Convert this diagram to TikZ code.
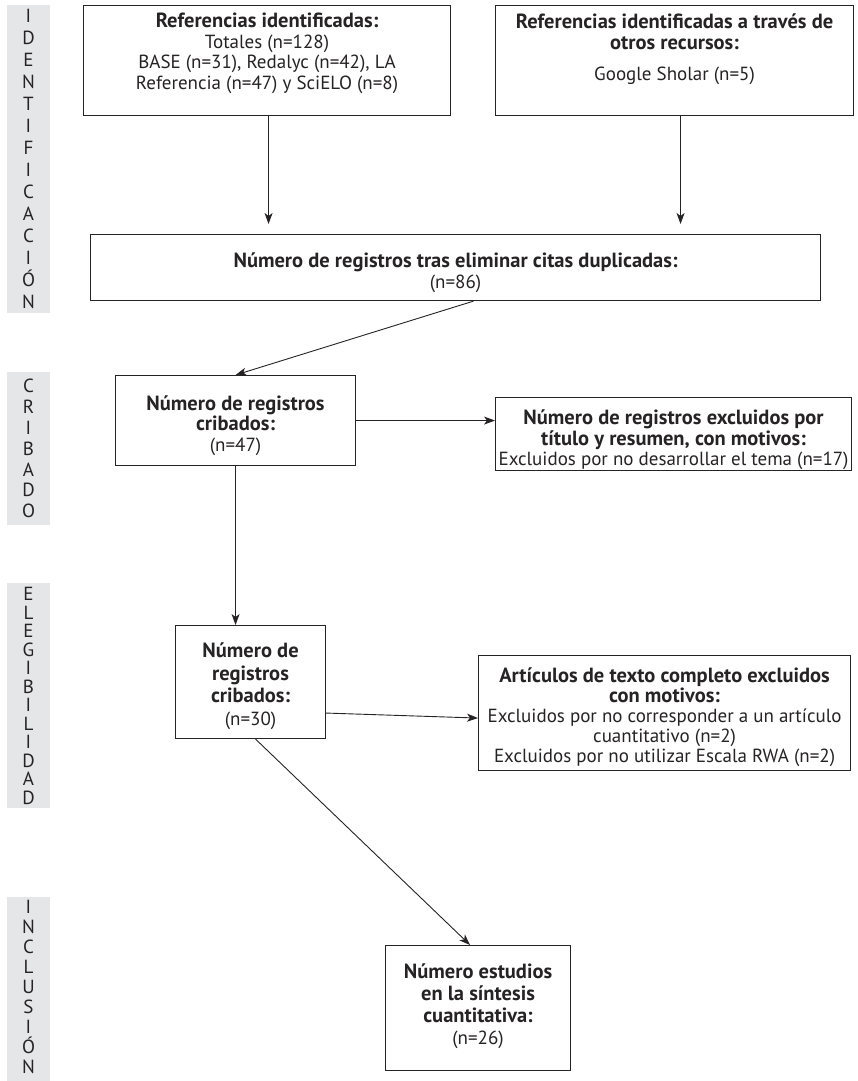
\documentclass[tikz,border=0pt]{standalone}
\usepackage{fontspec}
\setmainfont{PT Sans}
\usetikzlibrary{arrows.meta,positioning}
\definecolor{bargray}{HTML}{E5E6E8}
\definecolor{inkgray}{HTML}{262324}
\newcommand{\hd}[1]{{\fontsize{20.5}{20.5}\selectfont\bfseries #1}}
\tikzset{
  >={Stealth[length=11pt,width=8pt,inset=3pt]},
}
\tikzstyle{box}=[draw=inkgray,line width=1.1pt,anchor=north west,inner sep=0pt]
\tikzstyle{boxtext}=[align=center,inner sep=0pt,text=inkgray,font=\fontsize{19}{20.5}\selectfont]
\tikzstyle{stagebar}=[fill=bargray,anchor=north,minimum width=43pt,align=center,inner sep=0pt,text=inkgray]
\tikzstyle{flow}=[->,draw=inkgray,line width=0.9pt]

\begin{document}
\begin{tikzpicture}[x=1pt,y=-1pt]
    \fill[white] (0,0) rectangle (857,1081);
    \useasboundingbox (0,0) rectangle (857,1081);

    % stages
    \node[stagebar,minimum height=308pt,font=\fontsize{19}{22}\selectfont] (idbar) at (28.5,5)
      {I\\D\\E\\N\\T\\I\\F\\I\\C\\A\\C\\I\\Ó\\N};
    \node[stagebar,minimum height=153pt,font=\fontsize{19}{20.8}\selectfont] (cribbar) at (28.5,372)
      {C\\R\\I\\B\\A\\D\\O};
    \node[stagebar,minimum height=225pt,font=\fontsize{19}{18.5}\selectfont] (elegbar) at (28.5,583)
      {E\\L\\E\\G\\I\\B\\I\\L\\I\\D\\A\\D};
    \node[stagebar,minimum height=180pt,font=\fontsize{19}{20}\selectfont] (inclbar) at (28.5,897)
      {I\\N\\C\\L\\U\\S\\I\\Ó\\N};
    \fill[bargray] (inclbar.south west) rectangle (inclbar.east |- 0,1081);

    % boxes
    \node[box,minimum width=367pt,minimum height=110pt] (refdb) at (83,5) {};
    \node[boxtext] (refdb-t) at ([yshift=7pt]refdb.center)
      {\hd{Referencias identificadas:}\\Totales (n=128)\\BASE (n=31), Redalyc (n=42), LA\\Referencia (n=47) y SciELO (n=8)};
    \node[box,minimum width=358pt,minimum height=110pt] (refother) at (495,5) {};
    \node[boxtext] (refother-t) at ([yshift=11pt]refother.center)
      {\hd{Referencias identificadas a través de}\\\hd{otros recursos:}\\[11pt]Google Sholar (n=5)};
    \node[box,minimum width=730pt,minimum height=66pt] (dedup) at (90,234) {};
    \node[boxtext] (dedup-t) at ([yshift=-5pt]dedup.center)
      {\hd{Número de registros tras eliminar citas duplicadas:}\\(n=86)};
    \node[box,minimum width=240pt,minimum height=90pt] (screened) at (115,375) {};
    \node[boxtext] (screened-t) at ([yshift=-5pt]screened.center)
      {\hd{Número de registros}\\\hd{cribados:}\\(n=47)};
    \node[box,minimum width=356pt,minimum height=73pt] (excl1) at (495,397) {};
    \node[boxtext] (excl1-t) at ([yshift=-6pt]excl1.center)
      {\hd{Número de registros excluidos por}\\\hd{título y resumen, con motivos:}\\Excluidos por no desarrollar el tema (n=17)};
    \node[box,minimum width=150pt,minimum height=113pt] (eligible) at (175,625) {};
    \node[boxtext,font=\fontsize{19}{22.5}\selectfont] (eligible-t) at ([yshift=-4pt]eligible.center)
      {\hd{Número de}\\\hd{registros}\\\hd{cribados:}\\(n=30)};
    \node[box,minimum width=372pt,minimum height=115pt] (excl2) at (478,655) {};
    \node[boxtext,font=\fontsize{19}{20}\selectfont] (excl2-t) at ([yshift=-4pt]excl2.center)
      {\hd{Artículos de texto completo excluidos}\\\hd{con motivos:}\\Excluidos por no corresponder a un artículo\\cuantitativo (n=2)\\Excluidos por no utilizar Escala RWA (n=2)};
    \node[box,minimum width=185pt,minimum height=125pt] (included) at (385,945) {};
    \node[boxtext,font=\fontsize{19}{22}\selectfont] (included-t) at ([yshift=2pt]included.center)
      {\hd{Número estudios}\\\hd{en la síntesis}\\\hd{cuantitativa:}\\(n=26)};

    % connectors
    \draw[flow,shorten >=10pt] ([xshift=1.5pt]refdb.south) -- ([xshift=1.5pt]refdb.south |- dedup.north);
    \draw[flow,shorten >=10pt] ([xshift=6pt]refother.south) -- ([xshift=6pt]refother.south |- dedup.north);
    \draw[flow] ([xshift=18pt]dedup.south) -- (screened.north);
    \draw[flow] (screened.east) -- (screened.east -| excl1.west);
    \draw[flow] (screened.south) -- ([xshift=-15pt]eligible.north);
    \draw[flow] ([yshift=-31pt]eligible.east) -- ([yshift=-5pt]excl2.west);
    \draw[flow] ([xshift=5pt]eligible.south) -- ([xshift=-8pt]included.north);
\end{tikzpicture}
\end{document}
